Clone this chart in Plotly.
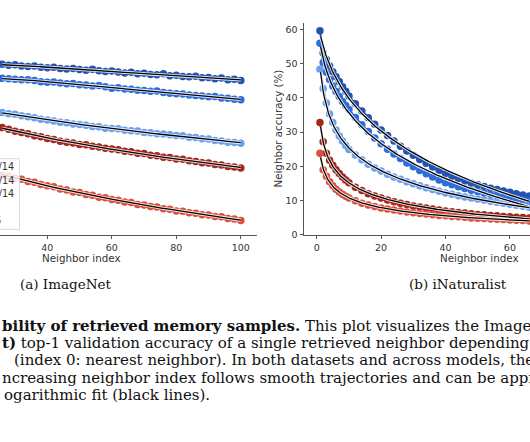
import numpy as np
import plotly.graph_objects as go

W, H = 530, 442
def px(x):
    return x / W
def py(y):
    return 1 - y / H

# ---------------- data ----------------
series_names = ["ViT-g/14", "ViT-L/14", "ViT-B/14", "ResNet-50 sup.", "ViT-B/16"]
series_colors = ["#2452b0", "#2f6cdb", "#6b9ff0", "#a5261b", "#de4e3a"]

in_x = list(range(26, 101, 2))
in_darkblue = [78.2, 78.0, 78.1, 77.9, 77.8, 77.9, 77.7, 77.6, 77.7, 77.5,
               77.4, 77.5, 77.3, 77.2, 77.35, 77.1, 77.0, 77.05, 76.9, 76.75,
               76.85, 76.6, 76.7, 76.5, 76.45, 76.6, 76.3, 76.35, 76.15, 76.1,
               76.2, 75.95, 76.0, 75.8, 75.9, 75.6, 75.7, 75.5]
in_blue = [75.85, 75.8, 75.7, 75.6, 75.62, 75.5, 75.3, 75.2, 75.25, 75.1,
           74.95, 75.0, 74.8, 74.75, 74.6, 74.65, 74.45, 74.2, 74.3, 74.1,
           74.05, 73.9, 73.85, 73.7, 73.75, 73.5, 73.4, 73.3, 73.25, 73.1,
           73.0, 72.95, 72.8, 72.85, 72.6, 72.55, 72.4, 72.3]
in_lightblue = [70.2, 70.0, 69.9, 69.65, 69.5, 69.35, 69.1, 68.95, 68.8, 68.6,
                68.5, 68.3, 68.2, 68.1, 67.9, 67.85, 67.6, 67.55, 67.5, 67.25,
                67.2, 67.15, 66.9, 66.85, 66.7, 66.65, 66.5, 66.4, 66.35, 66.1,
                66.05, 65.85, 65.8, 65.55, 65.5, 65.3, 65.25, 65.1]
in_darkred = [67.7, 67.45, 67.1, 66.9, 66.7, 66.35, 66.2, 65.9, 65.75, 65.45,
              65.3, 65.15, 64.9, 64.85, 64.6, 64.5, 64.3, 64.15, 64.05, 63.8,
              63.7, 63.45, 63.4, 63.15, 63.05, 62.8, 62.75, 62.5, 62.45, 62.2,
              62.1, 61.9, 61.85, 61.6, 61.5, 61.25, 61.2, 61.0]
in_red = [59.8, 59.65, 59.35, 59.15, 58.8, 58.65, 58.3, 58.1, 57.9, 57.55,
          57.4, 57.05, 56.95, 56.65, 56.5, 56.2, 56.1, 55.8, 55.7, 55.4,
          55.3, 55.0, 54.9, 54.65, 54.55, 54.3, 54.2, 53.9, 53.85, 53.6,
          53.55, 53.3, 53.25, 53.0, 52.95, 52.65, 52.6, 52.35]

inat_x = list(range(1, 11)) + list(range(12, 67, 2))
inat_darkblue = [59.7, 53.2, 51.3, 49.4, 47.7, 46.2, 44.8, 43.3, 42.0, 40.6,
                 38.3, 36.2, 34.2, 32.3, 30.6, 29.0, 27.4, 25.9, 24.5, 23.2,
                 22.0, 20.9, 19.8, 18.8, 17.9, 17.1, 16.4, 15.7, 15.1, 14.6,
                 14.1, 13.6, 13.2, 12.8, 12.4, 12.0, 11.6, 11.3]
inat_blue = [56.0, 50.4, 47.5, 45.4, 43.5, 41.9, 40.4, 39.0, 37.8, 36.6,
             34.3, 32.2, 30.2, 28.3, 26.6, 25.0, 23.6, 22.3, 21.0, 19.9,
             18.8, 17.8, 16.9, 16.0, 15.2, 14.6, 14.0, 13.5, 13.0, 12.6,
             12.2, 11.8, 11.4, 11.1, 10.8, 10.5, 10.1, 9.8]
inat_lightblue = [48.4, 42.8, 38.5, 35.3, 32.8, 30.6, 28.9, 27.4, 26.1, 24.9,
                  23.3, 21.9, 20.6, 19.5, 18.6, 17.7, 16.9, 16.2, 15.5, 14.9,
                  14.3, 13.7, 13.2, 12.7, 12.2, 11.8, 11.4, 11.0, 10.7, 10.4,
                  10.1, 9.8, 9.5, 9.2, 8.9, 8.6, 8.3, 8.0]
inat_darkred = [32.8, 27.2, 23.8, 21.8, 20.3, 19.0, 17.9, 16.9, 16.0, 15.2,
                13.9, 12.9, 12.0, 11.3, 10.7, 10.1, 9.6, 9.2, 8.8, 8.4,
                8.1, 7.8, 7.5, 7.2, 6.9, 6.7, 6.5, 6.3, 6.1, 5.9,
                5.8, 5.6, 5.5, 5.3, 5.2, 5.1, 5.0, 4.9]
inat_red = [23.8, 19.0, 17.1, 15.5, 14.3, 13.3, 12.5, 11.8, 11.2, 10.7,
            9.9, 9.2, 8.7, 8.2, 7.8, 7.5, 7.2, 6.9, 6.6, 6.4,
            6.2, 6.0, 5.8, 5.6, 5.5, 5.3, 5.2, 5.1, 4.9, 4.8,
            4.7, 4.6, 4.5, 4.4, 4.3, 4.2, 4.1, 4.0]

in_series = [in_darkblue, in_blue, in_lightblue, in_darkred, in_red]
inat_series = [inat_darkblue, inat_blue, inat_lightblue, inat_darkred, inat_red]

in_xticks = [40, 60, 80, 100]
inat_xticks = [0, 20, 40, 60]
inat_yticks = [0, 10, 20, 30, 40, 50, 60]

# ---------------- figure ----------------
def log_fit(x, y, xs):
    lx = np.log(np.asarray(x, float))
    c = np.polyfit(lx, np.asarray(y, float), 2)
    return np.polyval(c, np.log(xs))

fig = go.Figure()

def add_panel(xs, series, xa, ya, xfit):
    for vals, col, name in zip(series, series_colors, series_names):
        fig.add_trace(go.Scatter(x=xs, y=vals, mode="lines+markers", name=name,
                                 line=dict(color=col, width=2),
                                 marker=dict(color=col, size=7.5),
                                 xaxis=xa, yaxis=ya, showlegend=False))
    for vals in series:
        fy = log_fit(xs, vals, xfit)
        fig.add_trace(go.Scatter(x=xfit, y=fy, mode="lines",
                                 line=dict(color="rgba(255,255,255,0.85)", width=3.2),
                                 xaxis=xa, yaxis=ya, showlegend=False, hoverinfo="skip"))
        fig.add_trace(go.Scatter(x=xfit, y=fy, mode="lines",
                                 line=dict(color="black", width=1.3),
                                 xaxis=xa, yaxis=ya, showlegend=False, hoverinfo="skip"))

add_panel(in_x, in_series, "x", "y", np.linspace(in_x[0], in_x[-1], 200))
add_panel(inat_x, inat_series, "x2", "y2", np.linspace(1.2, inat_x[-1], 300))

ydom = [py(237.3), py(23.3)]
axcol = "#555"
tickfont = dict(family="DejaVu Sans", size=9.5, color="#333")

fig.update_layout(
    width=W, height=H, margin=dict(l=0, r=0, t=0, b=0),
    paper_bgcolor="white", plot_bgcolor="white",
    xaxis=dict(domain=[0, px(256.7)], range=[25.33, 104.93], tickvals=in_xticks,
               showline=True, linecolor=axcol, linewidth=1, ticks="outside",
               ticklen=3.5, tickwidth=0.9, tickcolor=axcol, showgrid=False,
               zeroline=False, tickfont=tickfont, anchor="y"),
    yaxis=dict(domain=ydom, range=[50, 85], showline=False, showticklabels=False,
               ticks="", showgrid=False, zeroline=False, anchor="x"),
    xaxis2=dict(domain=[px(304.0), 1], range=[-3.95, 66.24], tickvals=inat_xticks,
                showline=True, linecolor=axcol, linewidth=1, ticks="outside",
                ticklen=3.5, tickwidth=0.9, tickcolor=axcol, showgrid=False,
                zeroline=False, tickfont=tickfont, anchor="y2"),
    yaxis2=dict(domain=ydom, range=[0, 61.94], tickvals=inat_yticks,
                showline=True, linecolor=axcol, linewidth=1, ticks="outside",
                ticklen=3.5, tickwidth=0.9, tickcolor=axcol, showgrid=False,
                zeroline=False, tickfont=tickfont, anchor="x2"),
)

# legend box (cropped at the left edge)
fig.add_shape(type="rect", xref="paper", yref="paper",
              x0=px(-30), x1=px(19.5), y0=py(232), y1=py(160.5),
              fillcolor="rgba(255,255,255,0.8)", line=dict(color="#d0d0d0", width=0.8),
              layer="above")
leg_y = [168.3, 182.3, 196.0, 209.5, 223.3]
leg_right = [15.8, 15.8, 15.8, 2.6, 3.0]
for name, yy, xr in zip(series_names, leg_y, leg_right):
    fig.add_annotation(x=px(xr), y=py(yy), xref="paper", yref="paper", text=name,
                       showarrow=False, xanchor="right", yanchor="middle",
                       font=dict(family="DejaVu Sans", size=9.6, color="#333"))

# axis titles
lab = dict(family="DejaVu Sans", size=10.3, color="#333")
fig.add_annotation(x=px(81), y=py(260.5), xref="paper", yref="paper", text="Neighbor index",
                   showarrow=False, xanchor="center", yanchor="middle", font=lab)
fig.add_annotation(x=px(479), y=py(260.5), xref="paper", yref="paper", text="Neighbor index",
                   showarrow=False, xanchor="center", yanchor="middle", font=lab)
fig.add_annotation(x=px(278), y=py(130), xref="paper", yref="paper", text="Neighbor accuracy (%)",
                   showarrow=False, xanchor="center", yanchor="middle", textangle=-90, font=lab)

# sub-captions
serif = dict(family="DejaVu Serif", size=13.5, color="#111")
fig.add_annotation(x=px(18), y=py(287), xref="paper", yref="paper", text="(a) ImageNet",
                   showarrow=False, xanchor="left", yanchor="middle", font=serif)
fig.add_annotation(x=px(406.5), y=py(287), xref="paper", yref="paper", text="(b) iNaturalist",
                   showarrow=False, xanchor="left", yanchor="middle", font=serif)

caption_lines = [
    (0.0, "<b>bility of retrieved memory samples.</b> This plot visualizes the ImageNet"),
    (0.0, "<b>t)</b> top-1 validation accuracy of a single retrieved neighbor depending"),
    (11.7, "(index 0: nearest neighbor). In both datasets and across models, the"),
    (0.0, "ncreasing neighbor index follows smooth trajectories and can be approximated"),
    (1.7, "ogarithmic fit (black lines)."),
]
cap_y = [329.5, 347.0, 364.5, 382.0, 399.5]
for (xx, txt), yy in zip(caption_lines, cap_y):
    fig.add_annotation(x=px(xx), y=py(yy), xref="paper", yref="paper", text=txt,
                       showarrow=False, xanchor="left", yanchor="middle",
                       font=dict(family="DejaVu Serif", size=15, color="#111"))

fig.write_html("out.html", config={"displayModeBar": False},
               post_script="document.body.style.margin='0px';document.body.style.overflow='hidden';")
